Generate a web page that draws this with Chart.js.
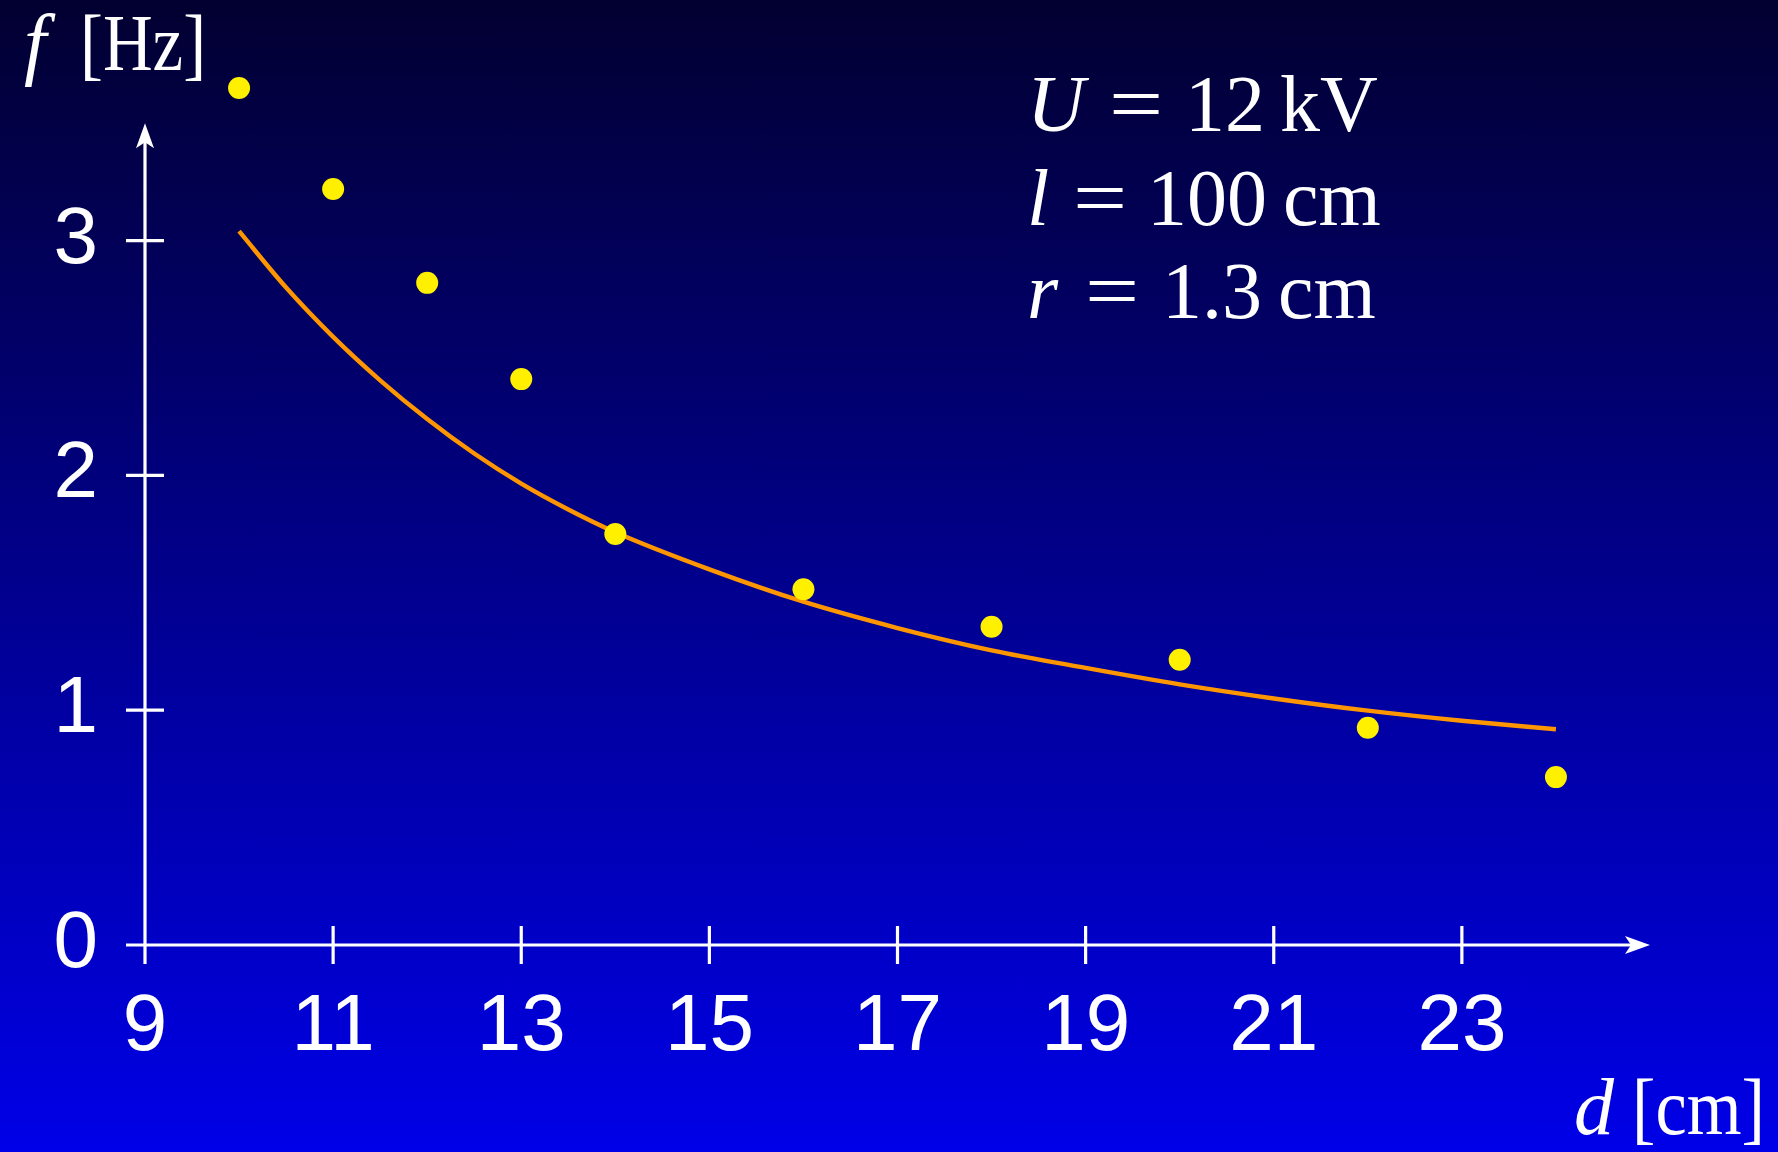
<!DOCTYPE html>
<html>
<head>
<meta charset="utf-8">
<script src="https://cdn.jsdelivr.net/npm/chart.js@4.4.0/dist/chart.umd.min.js"></script>
<style>
  html, body { margin: 0; padding: 0; }
  body { background: linear-gradient(to bottom, rgb(2,0,48), rgb(0,0,232)); }
  #wrap { position: relative; width: 1778px; height: 1152px; }
</style>
</head>
<body>
<div id="wrap"><canvas id="myChart"></canvas></div>
<script>
// measured points
const dValues = [10, 11, 12, 13, 14, 16, 18, 20, 22, 24];
const fValues = [3.65, 3.22, 2.82, 2.41, 1.75, 1.515, 1.355, 1.215, 0.925, 0.715];

// fitted curve
const fitD = [10, 10.5, 11, 11.5, 12, 12.5, 13, 13.5, 14, 15, 16, 17, 18, 19, 20, 21, 22, 23, 24];
const fitF = [3.04, 2.80, 2.59, 2.405, 2.24, 2.093, 1.965, 1.855, 1.758, 1.60, 1.462, 1.35, 1.255, 1.18, 1.11, 1.05, 0.998, 0.955, 0.919];

const xTicks = [9, 11, 13, 15, 17, 19, 21, 23];
const yTicks = [0, 1, 2, 3];

const paramLines = [
  { sym: 'U', num: '12', unit: 'kV' },
  { sym: 'l', num: '100', unit: 'cm' },
  { sym: 'r', num: '1.3', unit: 'cm' },
];

const sans = '"Liberation Sans", Arial, sans-serif';
const serif = '"Liberation Serif", "Times New Roman", serif';

const ctx = document.getElementById('myChart');

// text squeezed horizontally, to come closer to the TeX font widths
function squeezed(c, text, x, y, sx) {
  c.save();
  c.translate(x, y);
  c.scale(sx, 1);
  c.fillText(text, 0, 0);
  c.restore();
}

const axesPlugin = {
  id: 'axes',
  beforeDatasetsDraw(chart) {
    const c = chart.ctx;
    const xs = chart.scales.x;
    const ys = chart.scales.y;
    const x0 = xs.getPixelForValue(9);
    const y0 = ys.getPixelForValue(0);
    const xEnd = xs.getPixelForValue(25);
    const yEnd = ys.getPixelForValue(3.5);
    const t = 19;

    c.save();
    c.strokeStyle = '#fff';
    c.fillStyle = '#fff';
    c.lineWidth = 3.2;
    c.lineCap = 'butt';

    c.beginPath();
    c.moveTo(x0, y0 + t);
    c.lineTo(x0, yEnd + 10);
    c.moveTo(x0 - t, y0);
    c.lineTo(xEnd - 10, y0);
    for (const v of yTicks) {
      const py = ys.getPixelForValue(v);
      c.moveTo(x0 - t, py);
      c.lineTo(x0 + t, py);
    }
    for (const v of xTicks) {
      const px = xs.getPixelForValue(v);
      c.moveTo(px, y0 - t);
      c.lineTo(px, y0 + t);
    }
    c.stroke();

    // arrow heads
    c.beginPath();
    c.moveTo(x0, yEnd);
    c.lineTo(x0 + 9, yEnd + 25);
    c.lineTo(x0, yEnd + 19);
    c.lineTo(x0 - 9, yEnd + 25);
    c.closePath();
    c.moveTo(xEnd, y0);
    c.lineTo(xEnd - 25, y0 - 9);
    c.lineTo(xEnd - 19, y0);
    c.lineTo(xEnd - 25, y0 + 9);
    c.closePath();
    c.fill();
    c.restore();
  },
  afterDraw(chart) {
    const c = chart.ctx;
    c.save();
    c.fillStyle = '#fff';
    c.textBaseline = 'alphabetic';
    c.textAlign = 'left';

    // axis titles
    c.font = 'italic 80px ' + serif;
    c.fillText('f', 24, 70);
    c.fillText('d', 1574, 1134);
    c.font = '80px ' + serif;
    squeezed(c, '[Hz]', 80, 70, 0.86);
    squeezed(c, '[cm]', 1632, 1134, 0.88);

    // parameters
    const base = [131, 225, 318];
    const eqMid = [1136, 1100, 1112];
    const numEnd = [1265, 1267, 1262];
    const unitX = [1280, 1283, 1278];
    paramLines.forEach((p, i) => {
      c.font = 'italic 80px ' + serif;
      c.textAlign = 'left';
      c.fillText(p.sym, 1027, base[i]);
      c.font = '80px ' + serif;
      c.textAlign = 'center';
      squeezed(c, '=', eqMid[i], base[i], 1.2);
      c.textAlign = 'right';
      c.fillText(p.num, numEnd[i], base[i]);
      c.textAlign = 'left';
      c.fillText(p.unit, unitX[i], base[i]);
    });
    c.restore();
  },
};

const chart = new Chart(ctx, {
  type: 'scatter',
  data: {
    datasets: [
      {
        label: 'Messwerte',
        data: dValues.map((d, i) => ({ x: d, y: fValues[i] })),
        pointRadius: 11,
        pointHoverRadius: 11,
        pointBackgroundColor: '#fff000',
        pointBorderWidth: 0,
        showLine: false,
        clip: false,
      },
      {
        label: 'Fit',
        data: fitD.map((d, i) => ({ x: d, y: fitF[i] })),
        showLine: true,
        borderColor: '#ff9600',
        borderWidth: 4.4,
        pointRadius: 0,
        cubicInterpolationMode: 'monotone',
        clip: false,
      },
    ],
  },
  options: {
    responsive: true,
    maintainAspectRatio: false,
    animation: false,
    layout: { padding: { top: 41, right: 128, left: 0, bottom: 0 } },
    plugins: {
      legend: { display: false },
      tooltip: { enabled: false },
    },
    scales: {
      x: {
        type: 'linear',
        min: 9,
        max: 25,
        afterBuildTicks: (s) => { s.ticks = xTicks.map((v) => ({ value: v })); },
        afterFit: (s) => { s.height = 207; },
        grid: { display: false, drawTicks: false },
        border: { display: false },
        ticks: {
          color: '#fff',
          font: { family: sans, size: 80 },
          padding: 35,
          autoSkip: false,
          maxRotation: 0,
        },
      },
      y: {
        type: 'linear',
        min: 0,
        max: 3.85,
        afterBuildTicks: (s) => { s.ticks = yTicks.map((v) => ({ value: v })); },
        afterFit: (s) => {
          s.width = 145;
          s.paddingTop = 0;
          s.paddingBottom = 0;
        },
        grid: { display: false, drawTicks: false },
        border: { display: false },
        ticks: {
          color: '#fff',
          font: { family: sans, size: 80 },
          padding: 47,
        },
      },
    },
  },
  plugins: [axesPlugin],
});
</script>
</body>
</html>
